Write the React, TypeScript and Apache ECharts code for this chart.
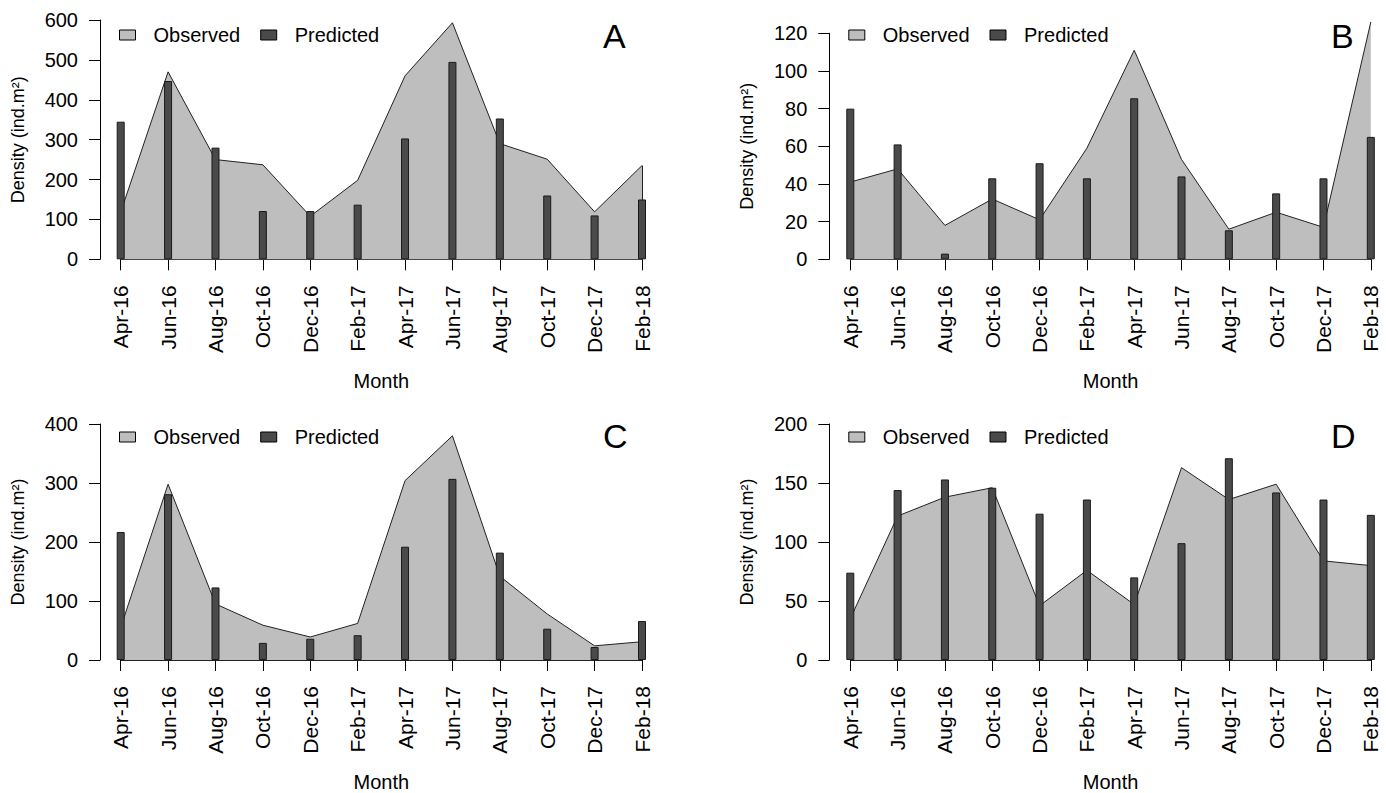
import React, { useEffect, useRef } from "react";
import * as echarts from "echarts";

const months = ["Apr-16", "Jun-16", "Aug-16", "Oct-16", "Dec-16", "Feb-17", "Apr-17", "Jun-17", "Aug-17", "Oct-17", "Dec-17", "Feb-18"];

const observedA = [118, 470, 250, 237, 108, 198, 460, 593, 290, 251, 119, 235];
const predictedA = [345, 447, 280, 121, 121, 137, 303, 495, 353, 160, 110, 150];

const observedB = [41, 48, 18, 32, 21, 59, 111, 53, 16, 25, 17, 126];
const predictedB = [80, 61, 3, 43, 51, 43, 85.5, 44, 15.4, 35, 43, 65];

const observedC = [55, 298, 95, 59, 39, 62, 304, 380, 142, 78, 24, 31];
const predictedC = [217, 281, 123, 29, 36, 42, 192, 307, 182, 53, 22, 66];

const observedD = [35, 122, 138, 146, 46, 76, 47, 163, 136, 149, 84, 80];
const predictedD = [74, 144, 153, 146, 124, 136, 70, 99, 171, 142, 136, 123];

const panelLetters = ["A", "B", "C", "D"];
const yMax = [600, 120, 400, 200];
const yInterval = [100, 20, 100, 50];

const FONT = "'Liberation Sans', Arial, sans-serif";
const OBS_COLOR = "#bebebe";
const PRED_COLOR = "#4a4a4a";

const panels = [
  { obs: observedA, pred: predictedA, left: 120.7, top: 20, width: 521.3, height: 239.3 },
  { obs: observedB, pred: predictedB, left: 850.3, top: 33.3, width: 520.5, height: 226 },
  { obs: observedC, pred: predictedC, left: 120.7, top: 424, width: 521.3, height: 237.7 },
  { obs: observedD, pred: predictedD, left: 850.3, top: 424, width: 520.5, height: 237.7 },
];

export default function App() {
  const ref = useRef<HTMLDivElement>(null);
  useEffect(() => {
    if (!ref.current) return;
    const chart = echarts.init(ref.current, null, { renderer: "svg" });
    const grid: any[] = [];
    const xAxis: any[] = [];
    const yAxis: any[] = [];
    const series: any[] = [];
    const legend: any[] = [];
    const graphic: any[] = [];
    panels.forEach((p, i) => {
      grid.push({ left: p.left, top: p.top, width: p.width, height: p.height, containLabel: false });
      xAxis.push({
        type: "category",
        gridIndex: i,
        data: months,
        boundaryGap: false,
        offset: 8,
        name: "Month",
        nameLocation: "middle",
        nameGap: 104,
        nameTextStyle: { fontFamily: FONT, fontSize: 20, color: "#000" },
        axisLine: { show: true, lineStyle: { color: "#000", width: 1 } },
        axisTick: { show: true, length: 11, lineStyle: { color: "#000" } },
        axisLabel: { rotate: 90, margin: 18, fontFamily: FONT, fontSize: 21, color: "#000", interval: 0 },
        splitLine: { show: false },
      });
      yAxis.push({
        type: "value",
        gridIndex: i,
        min: 0,
        max: yMax[i],
        interval: yInterval[i],
        offset: p.left - (i % 2 === 0 ? 100 : 829.3),
        name: "Density (ind.m\u00b2)",
        nameLocation: "middle",
        nameGap: 73,
        nameTextStyle: { fontFamily: FONT, fontSize: 18, color: "#000" },
        axisLine: { show: true, lineStyle: { color: "#000", width: 1 } },
        axisTick: { show: true, length: 11, lineStyle: { color: "#000" } },
        axisLabel: { margin: 22, fontFamily: FONT, fontSize: 20, color: "#000" },
        splitLine: { show: false },
      });
      const last = months.length - 1;
      series.push({
        name: "Observed",
        type: "line",
        xAxisIndex: i,
        yAxisIndex: i,
        data: p.obs,
        symbol: "none",
        clip: false,
        z: 1,
        color: OBS_COLOR,
        lineStyle: { color: "#222", width: 1 },
        areaStyle: { color: OBS_COLOR, opacity: 1 },
        markLine: {
          silent: true,
          z: 1,
          symbol: ["none", "none"],
          label: { show: false },
          lineStyle: { color: "#222", width: 1, type: "solid" },
          data: [
            [{ coord: [0, 0] }, { coord: [last, 0] }],
            [{ coord: [last, p.obs[last]] }, { coord: [last, 0] }],
          ],
        },
      });
      series.push({
        name: "Predicted",
        type: "bar",
        xAxisIndex: i,
        yAxisIndex: i,
        data: p.pred,
        barWidth: 8,
        clip: false,
        z: 3,
        color: PRED_COLOR,
        itemStyle: { color: PRED_COLOR, borderColor: "#1a1a1a", borderWidth: 1 },
      });
      const axisX = i % 2 === 0 ? 100 : 829.3;
      legend.push({
        left: axisX + 19,
        top: i < 2 ? 25 : 427,
        padding: 0,
        itemWidth: 16,
        itemHeight: 10,
        itemGap: 20,
        icon: "rect",
        selectedMode: false,
        textStyle: { fontFamily: FONT, fontSize: 20, color: "#000", padding: [0, 0, 0, 13] },
        data: [
          { name: "Observed", itemStyle: { color: OBS_COLOR, borderColor: "#000", borderWidth: 1 } },
          { name: "Predicted", itemStyle: { color: PRED_COLOR, borderColor: "#000", borderWidth: 1 } },
        ],
      });
      graphic.push({
        type: "text",
        left: (i % 2 === 0 ? 614 : 1342) - 11,
        top: (i < 2 ? 37 : 437) - 18,
        style: { text: panelLetters[i], font: `34px ${FONT}`, fill: "#000" },
      });
    });
    chart.setOption({
      animation: false,
      backgroundColor: "#fff",
      grid,
      xAxis,
      yAxis,
      series,
      legend,
      graphic,
    });
    return () => chart.dispose();
  }, []);
  return <div ref={ref} style={{ position: "fixed", left: 0, top: 0, width: 1386, height: 793 }} />;
}
